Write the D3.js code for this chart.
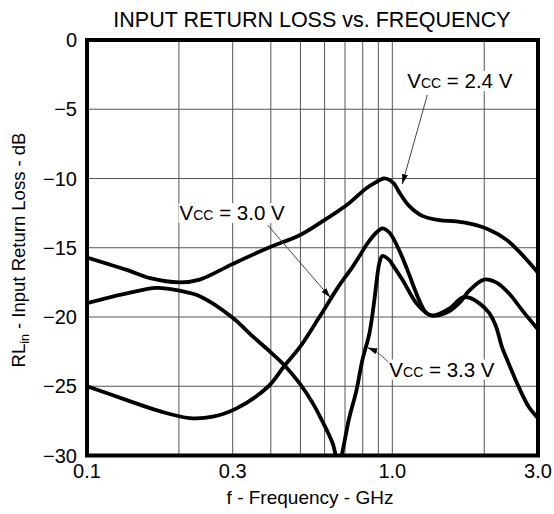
<!DOCTYPE html>
<html><head><meta charset="utf-8">
<script src="https://cdn.jsdelivr.net/npm/d3@7"></script>
<style>
html,body{margin:0;padding:0;background:#fff;}
svg{display:block;font-family:"Liberation Sans",Arial,Helvetica,sans-serif;}
</style></head>
<body><svg id="chart" width="554" height="514"></svg>
<script>
// ---- data ----
const gridFreqs = [0.2,0.3,0.4,0.5,0.6,0.7,0.8,0.9,1.0,2.0];
const xTickValues = [0.1,0.3,1.0,3.0];
const xTickLabels = ["0.1","0.3","1.0","3.0"];
const yTickValues = [0,-5,-10,-15,-20,-25,-30];

const freq24 = [0.100,0.135,0.161,0.201,0.234,0.298,0.393,0.497,0.590,0.720,0.822,0.880,0.935,0.978,1.015,1.054,1.137,1.253,1.424,1.619,1.825,2.075,2.358,2.660,3.000];
const rl24   = [-15.7,-16.6,-17.2,-17.5,-17.3,-16.2,-15.0,-14.1,-13.1,-11.8,-10.7,-10.3,-10.0,-10.1,-10.4,-11.0,-12.0,-12.7,-13.0,-13.1,-13.3,-13.7,-14.4,-15.5,-16.8];

const freq30 = [0.100,0.135,0.173,0.217,0.258,0.309,0.393,0.444,0.497,0.577,0.671,0.740,0.786,0.822,0.887,0.928,0.978,1.054,1.120,1.225,1.291,1.351,1.502,1.656,1.785,1.998,2.187,2.412,2.660,3.000];
const rl30   = [-25.0,-26.0,-26.8,-27.3,-27.2,-26.6,-25.0,-23.5,-22.2,-20.0,-17.7,-16.4,-15.5,-14.8,-13.9,-13.6,-13.9,-15.2,-16.6,-18.8,-19.7,-19.9,-19.7,-19.0,-18.1,-17.3,-17.5,-18.3,-19.5,-20.9];

const freq33 = [0.100,0.135,0.169,0.201,0.234,0.298,0.349,0.393,0.444,0.497,0.548,0.586,0.637,0.666,0.724,0.763,0.798,0.841,0.873,0.893,0.907,0.928,0.978,1.000,1.078,1.198,1.291,1.351,1.536,1.694,1.785,1.924,2.075,2.187,2.288,2.358,2.600,2.800,3.000];
const rl33   = [-19.0,-18.3,-17.9,-18.1,-18.5,-20.0,-21.4,-22.4,-23.5,-24.8,-26.2,-27.4,-29.1,-30.5,-27.2,-25.3,-23.1,-21.2,-18.8,-17.0,-16.1,-15.6,-15.9,-16.2,-17.3,-19.0,-19.7,-19.9,-19.4,-18.6,-18.6,-19.0,-19.7,-20.7,-22.2,-22.9,-25.1,-26.5,-27.3];

const seriesNames = ["2.4 V","3.0 V","3.3 V"];
// annotation: label anchor (freq, dB) and arrow (from -> to) in data units
const labelFreq = [1.119, 0.201, 0.978];
const labelRL   = [-3.47, -13.0, -24.3];
const arrowFrom = [[1.302,-3.97],[0.3905,-13.36],[0.970,-23.25]];
const arrowMid  = [null, null, [0.893,-22.5]];
const arrowTo   = [[1.078,-10.4],[0.627,-18.6],[0.829,-22.2]];

// ---- chart ----
const svg = d3.select("#chart");
const m = {left:87, right:538, top:40, bottom:455.5};
const x = d3.scaleLog().domain([0.1,3.0]).range([m.left,m.right]);
const y = d3.scaleLinear().domain([0,-30]).range([m.top,m.bottom]);

svg.append("defs").append("clipPath").attr("id","clip")
  .append("rect").attr("x",m.left).attr("y",m.top)
  .attr("width",m.right-m.left).attr("height",m.bottom-m.top);

svg.select("defs").append("marker").attr("id","ah")
  .attr("viewBox","0 0 10 6").attr("refX",10).attr("refY",3)
  .attr("markerWidth",10).attr("markerHeight",6).attr("markerUnits","userSpaceOnUse")
  .attr("orient","auto")
  .append("path").attr("d","M0,0 L10,3 L0,6 Z").attr("fill","#000");

// grid
const grid = svg.append("g");
grid.selectAll("line.v").data(gridFreqs).enter().append("line")
  .attr("x1",d=>x(d)).attr("x2",d=>x(d)).attr("y1",m.top).attr("y2",m.bottom)
  .attr("stroke","#555").attr("stroke-width",1);
grid.selectAll("line.h").data(yTickValues.slice(1,-1)).enter().append("line")
  .attr("x1",m.left).attr("x2",m.right).attr("y1",d=>y(d)).attr("y2",d=>y(d))
  .attr("stroke","#555").attr("stroke-width",1);

// curves
const line = d3.line().x(d=>x(d[0])).y(d=>y(d[1])).curve(d3.curveCatmullRom.alpha(0.5));
const series = [d3.zip(freq24,rl24), d3.zip(freq30,rl30), d3.zip(freq33,rl33)];
svg.append("g").attr("clip-path","url(#clip)").selectAll("path").data(series).enter()
  .append("path").attr("d",line).attr("fill","none").attr("stroke","#000")
  .attr("stroke-width",3.8).attr("stroke-linejoin","round");

// labels
const ann = svg.append("g");
seriesNames.forEach((name,i)=>{
  const g = ann.append("g");
  const t = g.append("text").attr("x",x(labelFreq[i])).attr("y",y(labelRL[i]))
    .attr("font-size",20.5).attr("fill","#000");
  t.append("tspan").text("V");
  t.append("tspan").attr("font-size",14).text("CC");
  t.append("tspan").text(" = " + name);
  const bb = t.node().getBBox();
  g.insert("rect","text").attr("x",bb.x-1).attr("y",bb.y+2).attr("width",bb.width+2)
    .attr("height",bb.height-3).attr("fill","#fff");
  const pts = [arrowFrom[i]].concat(arrowMid[i]?[arrowMid[i]]:[]).concat([arrowTo[i]]);
  ann.append("path").attr("d", d3.line().x(d=>x(d[0])).y(d=>y(d[1])).curve(d3.curveBasis)(pts))
    .attr("fill","none").attr("stroke","#444").attr("stroke-width",1)
    .attr("marker-end","url(#ah)");
});

// frame
svg.append("rect").attr("x",m.left).attr("y",m.top).attr("width",m.right-m.left)
  .attr("height",m.bottom-m.top).attr("fill","none").attr("stroke","#000").attr("stroke-width",4);

// axes labels
svg.selectAll("text.xt").data(xTickValues).enter().append("text")
  .attr("x",d=>x(d)).attr("y",478).attr("text-anchor","middle").attr("font-size",20)
  .text((d,i)=>xTickLabels[i]);
svg.selectAll("text.yt").data(yTickValues).enter().append("text")
  .attr("x",77).attr("y",d=>y(d)+7).attr("text-anchor","end").attr("font-size",20)
  .text(d=>d===0?"0":"\u2212"+Math.abs(d));

svg.append("text").attr("x",312).attr("y",27).attr("text-anchor","middle")
  .attr("font-size",21.5).text("INPUT RETURN LOSS vs. FREQUENCY");
svg.append("text").attr("x",310).attr("y",504).attr("text-anchor","middle")
  .attr("font-size",19).text("f - Frequency - GHz");
const yl = svg.append("text").attr("transform","translate(25,250) rotate(-90)")
  .attr("text-anchor","middle").attr("font-size",18.5);
yl.append("tspan").text("RL");
yl.append("tspan").attr("font-size",12.5).attr("dy",4).text("in");
yl.append("tspan").attr("dy",-4).text(" - Input Return Loss - dB");
</script></body></html>
